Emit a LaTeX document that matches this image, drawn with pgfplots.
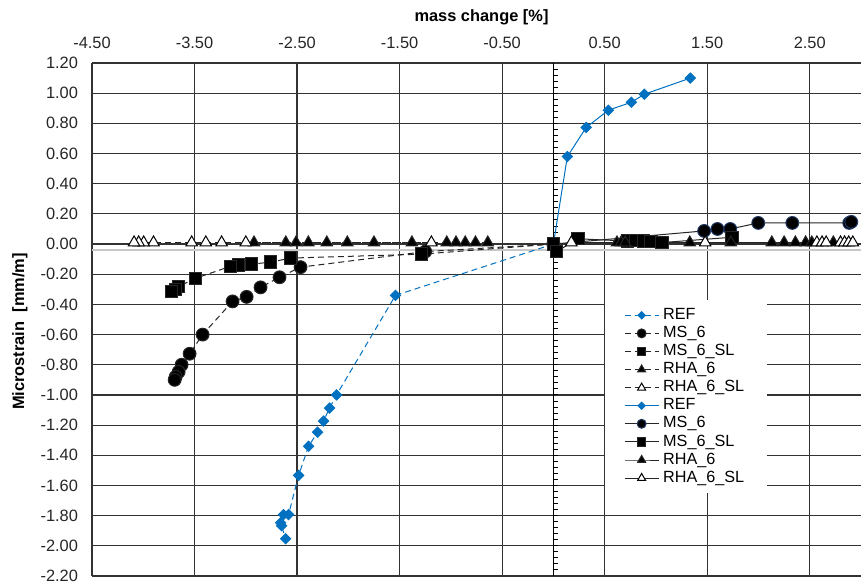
\documentclass[border=0pt]{standalone}
\usepackage{pgfplots}
\pgfplotsset{compat=1.18}
\usepackage{fontspec}
\setmainfont{Liberation Sans}
\definecolor{refblue}{RGB}{0,112,192}
\definecolor{msedge}{RGB}{31,56,100}
\definecolor{axgrey}{RGB}{200,200,200}
\begin{document}
\begin{tikzpicture}
\useasboundingbox (-46pt,-4pt) rectangle (384.5pt,288pt);
\begin{axis}[
  at={(0,0)}, anchor=south west,
  scale only axis, width=384.5pt, height=256.5pt,
  xmin=-4.5, xmax=3.0, ymin=-2.2, ymax=1.2,
  xtick={-4.5,-3.5,-2.5,-1.5,-0.5,0.5,1.5,2.5},
  ytick={-2.2,-2.0,-1.8,-1.6,-1.4,-1.2,-1.0,-0.8,-0.6,-0.4,-0.2,0,0.2,0.4,0.6,0.8,1.0,1.2},
  xticklabel pos=upper,
  axis line style={draw=none},
  major tick length=0pt,
  grid=major,
  major grid style={black!80, line width=0.6pt},
  /pgf/number format/assume math mode=true,
  /pgf/number format/fixed, /pgf/number format/fixed zerofill, /pgf/number format/precision=2,
  tick label style={font=\fontsize{8.2}{9}\selectfont, text=black!85},
  xticklabel style={yshift=3.5pt},
  yticklabel style={xshift=-3.5pt},
  xlabel={\textbf{mass change [\%]}},
  xlabel style={at={(axis description cs:0.5,1)}, anchor=center, yshift=23pt, xshift=2.5pt, font=\fontsize{8.2}{9}\selectfont},
  ylabel={\textbf{Microstrain\ \ [mm/m]}},
  ylabel style={at={(axis description cs:0,0.5)}, anchor=center, yshift=36pt, xshift=-6pt, font=\fontsize{8.2}{9}\selectfont},
  legend style={at={(axis cs:0.50,-0.37)}, anchor=north west, draw=none, fill=white,
    font=\fontsize{8.1}{9}\selectfont, row sep=-2.1pt, inner xsep=9.5pt, inner ysep=2pt},
  legend cell align=left,
  legend image post style={every mark/.append style={scale=0.7}},
  every axis plot/.append style={line width=0.5pt},
]
% decorations: axis lines
\draw[axgrey, line width=1.1pt] (axis cs:-4.5,-0.04) -- (axis cs:3.0,-0.04);
\draw[black, line width=0.6pt] (axis cs:0,-2.2) -- (axis cs:0,1.2);
\foreach \k in {1,...,84}{
  \pgfmathsetmacro{\yy}{-2.2+0.04*\k}
  \edef\temp{\noexpand\draw[black, line width=0.5pt] (axis cs:0,\yy) -- ++(2.2pt,0pt);}
  \temp
}

% dashed series (negative side)
\addplot[refblue, densely dashed, mark=square*, mark size=1.8pt, mark options={solid, rotate=45, fill=refblue}]
 coordinates {(0,0) (-1.54,-0.34) (-2.115,-1.00) (-2.183,-1.087) (-2.242,-1.173) (-2.30,-1.247) (-2.388,-1.34) (-2.485,-1.533) (-2.583,-1.793) (-2.632,-1.793) (-2.661,-1.847) (-2.651,-1.867) (-2.612,-1.953)};
\addlegendentry{REF}
\addplot[black!85, densely dashed, mark=*, mark size=3.2pt, mark options={solid, fill=black}]
 coordinates {(0,0) (-1.25,-0.05) (-2.466,-0.153) (-2.671,-0.22) (-2.856,-0.287) (-2.992,-0.35) (-3.129,-0.38) (-3.421,-0.60) (-3.548,-0.727) (-3.626,-0.80) (-3.655,-0.847) (-3.684,-0.88) (-3.694,-0.90)};
\addlegendentry{MS\_6}
\addplot[black!85, densely dashed, mark=square*, mark size=3.1pt, mark options={solid, fill=black}]
 coordinates {(0,0) (-1.287,-0.067) (-2.563,-0.093) (-2.758,-0.12) (-2.943,-0.133) (-3.07,-0.14) (-3.148,-0.147) (-3.489,-0.227) (-3.655,-0.28) (-3.684,-0.30) (-3.723,-0.313)};
\addlegendentry{MS\_6\_SL}
\addplot[black!85, densely dashed, mark=triangle*, mark size=3.3pt, mark options={solid, fill=black}]
 coordinates {(-0.64,0.01) (-0.76,0.01) (-0.86,0.01) (-0.95,0.01) (-1.04,0.01) (-1.38,0.01) (-1.75,0.01) (-2.01,0.01) (-2.21,0.01) (-2.39,0.01) (-2.51,0.01) (-2.61,0.01) (-2.92,0.01)};
\addlegendentry{RHA\_6}
\addplot[black!85, densely dashed, mark=triangle*, mark size=3.3pt, mark options={solid, fill=white, draw=black}]
 coordinates {(-1.19,0.01) (-3.00,0.01) (-3.236,0.01) (-3.39,0.01) (-3.528,0.01) (-3.90,0.01) (-3.996,0.01) (-4.045,0.01) (-4.09,0.01)};
\addlegendentry{RHA\_6\_SL}

% solid series (positive side)
\addplot[refblue, solid, mark=square*, mark size=1.8pt, mark options={rotate=45, fill=refblue}]
 coordinates {(0,0) (0.136,0.58) (0.32,0.773) (0.536,0.887) (0.76,0.94) (0.887,0.993) (1.335,1.10)};
\addlegendentry{REF}
\addplot[black!85, solid, mark=*, mark size=3.2pt, mark options={fill=black, draw=msedge}]
 coordinates {(0,0) (1.47,0.087) (1.60,0.10) (1.725,0.10) (1.998,0.14) (2.33,0.14) (2.885,0.14) (2.905,0.147)};
\addlegendentry{MS\_6}
\addplot[black!85, solid, mark=square*, mark size=3.1pt, mark options={fill=black}]
 coordinates {(0,0) (0.03,-0.05) (0.24,0.035) (0.72,0.02) (0.80,0.025) (0.88,0.02) (0.95,0.015) (1.06,0.01) (1.74,0.045)};
\addlegendentry{MS\_6\_SL}
\addplot[black!85, solid, mark=triangle*, mark size=3.3pt, mark options={fill=black}]
 coordinates {(0.62,0.01) (0.66,0.01) (0.70,0.01) (1.33,0.01) (1.73,0.01) (2.13,0.01) (2.25,0.01) (2.36,0.01) (2.46,0.01) (2.52,0.01) (2.73,0.01)};
\addlegendentry{RHA\_6}
\addplot[black!85, solid, mark=triangle*, mark size=3.3pt, mark options={fill=white, draw=black}]
 coordinates {(0.175,0.01) (1.48,0.01) (2.57,0.01) (2.62,0.01) (2.66,0.01) (2.80,0.01) (2.84,0.01) (2.88,0.01) (2.92,0.01)};
\addlegendentry{RHA\_6\_SL}
\end{axis}
\end{tikzpicture}
\end{document}
